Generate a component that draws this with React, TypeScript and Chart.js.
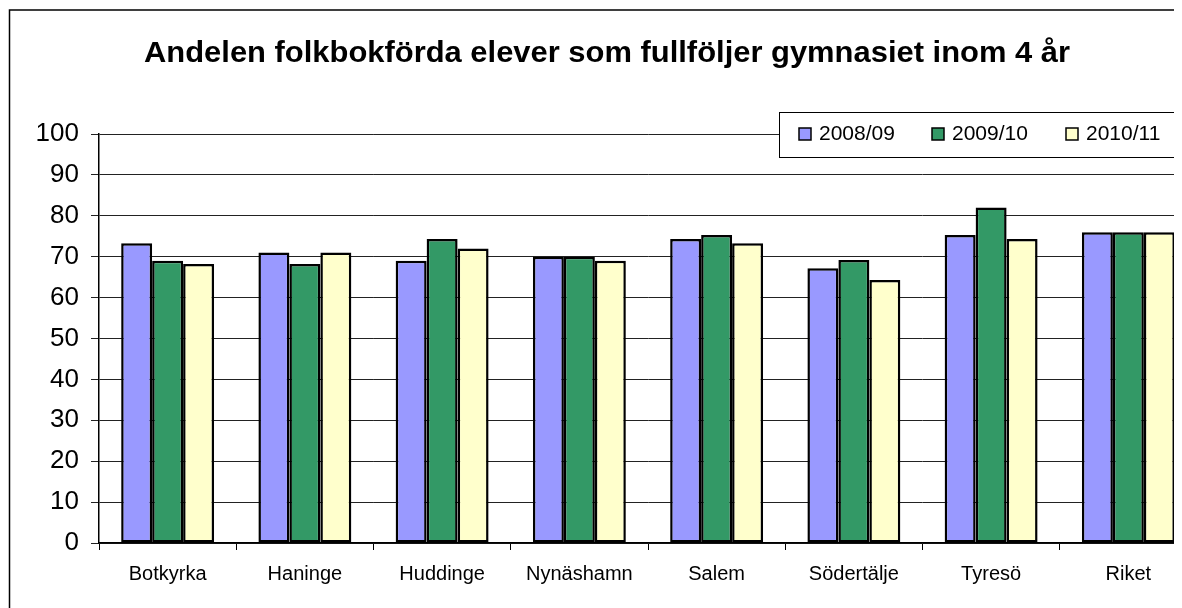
import React, { useEffect, useRef } from "react";
import { Chart, registerables } from "chart.js";

Chart.register(...registerables);

const TITLE = "Andelen folkbokförda elever som fullföljer gymnasiet inom 4 år";
const categories = ["Botkyrka", "Haninge", "Huddinge", "Nynäshamn", "Salem", "Södertälje", "Tyresö", "Riket"];
const seriesLabels = ["2008/09", "2009/10", "2010/11"];
const values0809 = [73.3, 71, 69, 70, 74.3, 67.2, 75.3, 76];
const values0910 = [69, 68.2, 74.3, 70, 75.3, 69.2, 82, 76];
const values1011 = [68.2, 71, 72, 69, 73.3, 64.3, 74.3, 76];
const yTicks = [0, 10, 20, 30, 40, 50, 60, 70, 80, 90, 100];
const colors = ["#9999FF", "#339966", "#FFFFCC"];

const FONT = "Arial, 'Liberation Sans', sans-serif";

const decorPlugin = {
  id: "decor",
  beforeDraw(chart: any) {
    const ctx = chart.ctx;
    ctx.save();
    ctx.fillStyle = "#ffffff";
    ctx.fillRect(0, 0, chart.width, chart.height);
    ctx.strokeStyle = "#000000";
    ctx.lineWidth = 1.5;
    ctx.strokeRect(1.5, 2, chart.width + 20, chart.height + 20);
    ctx.restore();
  },
  afterDraw(chart: any) {
    const ctx = chart.ctx;
    ctx.save();
    // title
    ctx.fillStyle = "#000";
    ctx.font = `bold 30px ${FONT}`;
    ctx.textAlign = "center";
    ctx.textBaseline = "middle";
    const tw = ctx.measureText(TITLE).width;
    ctx.translate(599, 46);
    ctx.scale(926 / tw, 1);
    ctx.fillText(TITLE, 0, 0);
    ctx.setTransform(1, 0, 0, 1, 0, 0);
    // legend
    const lx = 771, ly = 104, lw = 397, lh = 45;
    ctx.fillStyle = "#fff";
    ctx.fillRect(lx, ly, lw, lh);
    ctx.strokeStyle = "#000";
    ctx.lineWidth = 1;
    ctx.strokeRect(lx + 0.5, ly + 0.5, lw, lh);
    const itemX = [791, 924, 1058];
    ctx.font = `21px ${FONT}`;
    ctx.textAlign = "left";
    chart.data.datasets.forEach((ds: any, i: number) => {
      const x = itemX[i];
      ctx.fillStyle = ds.backgroundColor;
      ctx.fillRect(x, 120, 12, 12);
      ctx.strokeStyle = "#000";
      ctx.lineWidth = 1.5;
      ctx.strokeRect(x, 120, 12, 12);
      ctx.fillStyle = "#000";
      ctx.textBaseline = "middle";
      ctx.fillText(ds.label, x + 20, 126);
    });
    ctx.restore();
  },
};

export default function App() {
  const ref = useRef<HTMLCanvasElement | null>(null);
  useEffect(() => {
    if (!ref.current) return;
    const vals = [values0809, values0910, values1011];
    const chart = new Chart(ref.current, {
      type: "bar",
      data: {
        labels: categories,
        datasets: seriesLabels.map((label, i) => ({
          label,
          data: vals[i],
          backgroundColor: colors[i],
          borderColor: "#000000",
          borderWidth: 2.5,
          borderSkipped: false,
          categoryPercentage: 0.677,
          barPercentage: 1,
        })),
      },
      options: {
        responsive: false,
        animation: false,
        devicePixelRatio: 1,
        layout: { padding: { top: 126, right: 9, left: 0, bottom: 0 } },
        plugins: {
          legend: { display: false },
          title: { display: false },
          tooltip: { enabled: false },
        },
        scales: {
          x: {
            afterFit: (s: any) => { s.height = 65; },
            grid: { display: true, drawOnChartArea: false, offset: true, tickLength: 7, color: "#000", lineWidth: 1 },
            border: { display: true, color: "#000", width: 1.5 },
            ticks: { color: "#000", font: { family: FONT, size: 20 }, padding: 12, maxRotation: 0, autoSkip: false },
          },
          y: {
            min: 0,
            max: 100,
            afterFit: (s: any) => { s.width = 91; },
            afterBuildTicks: (s: any) => { s.ticks = yTicks.map((v) => ({ value: v })); },
            grid: { color: "#222", lineWidth: 1, tickLength: 8 },
            border: { display: true, color: "#000", width: 1.5 },
            ticks: { color: "#000", font: { family: FONT, size: 26 }, padding: 12, stepSize: 10 },
          },
        },
      },
      plugins: [decorPlugin],
    });
    return () => chart.destroy();
  }, []);
  return (
    <div style={{ position: "relative", width: 1174, height: 600, overflow: "hidden" }}>
      <canvas ref={ref} width={1198} height={600} style={{ position: "absolute", left: 0, top: 0 }} />
    </div>
  );
}
